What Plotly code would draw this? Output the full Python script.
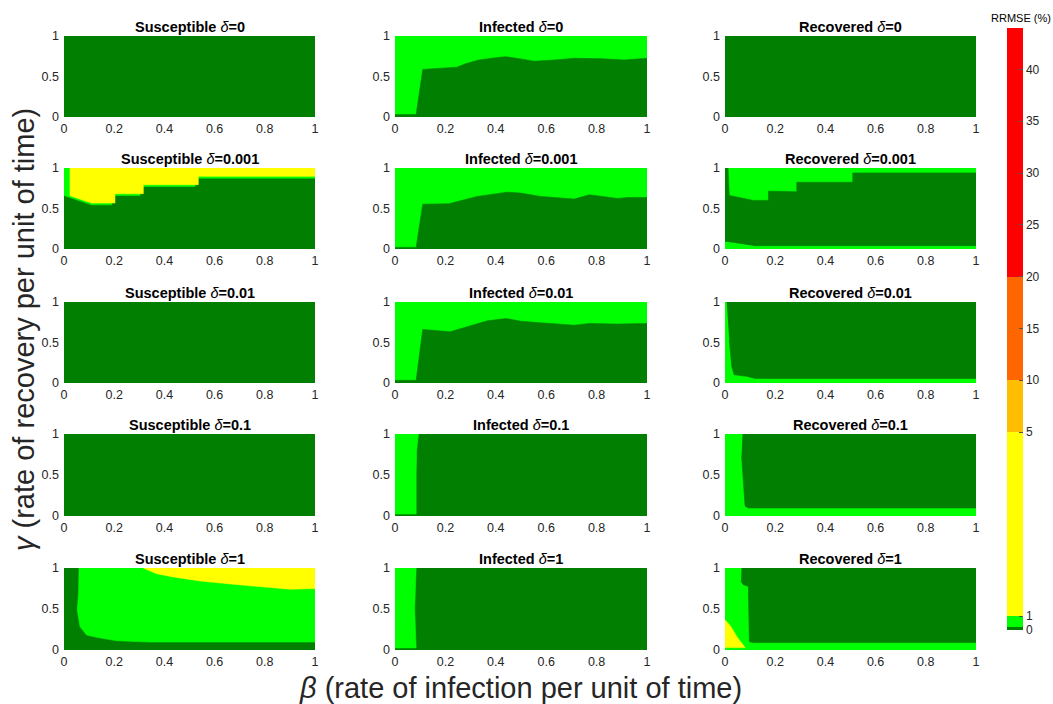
import numpy as np
import plotly.graph_objects as go
from plotly.subplots import make_subplots

# ---------------- axes / labels ----------------
BETA_TICKS = [0, 0.2, 0.4, 0.6, 0.8, 1]
BETA_LABELS = ["0", "0.2", "0.4", "0.6", "0.8", "1"]
GAMMA_TICKS = [0, 0.5, 1]
GAMMA_LABELS = ["0", "0.5", "1"]
AXIS_RANGE = [0, 1]

COMPARTMENTS = ["Susceptible", "Infected", "Recovered"]
DELTAS = ["0", "0.001", "0.01", "0.1", "1"]

# ---------------- RRMSE colour bins ----------------
BIN_EDGES = [0, 0.25, 1, 5, 10, 20, 44]
BIN_COLORS = ["#007F00", "#00FF00", "#FFFF00", "#FFBF00", "#FF6600", "#FF0000"]
CB_TICKS = [0, 1, 5, 10, 15, 20, 25, 30, 35, 40]
# colorbar is stretched below 5 (piecewise scale knots)
CB_KNOT_VALUES = [0, 1, 5, 44]
CB_KNOT_POS = [0, 14, 198, 602]

# representative RRMSE (%) of each region type
LOW = 0.1      # dark green
MID = 0.6      # bright green
HIGH = 3.0     # yellow

# ---------------- region boundaries ----------------
# Infected: upper edge of the low-error (dark) region
INF_D0_X = [0, 0.084, 0.110, 0.18, 0.246, 0.279, 0.332, 0.392, 0.439, 0.5, 0.552, 0.632, 0.711, 0.818, 0.91, 1]
INF_D0_Y = [0.03, 0.03, 0.587, 0.60, 0.615, 0.656, 0.704, 0.729, 0.745, 0.717, 0.688, 0.704, 0.725, 0.72, 0.704, 0.725]
INF_D0001_X = [0, 0.084, 0.110, 0.213, 0.326, 0.379, 0.445, 0.499, 0.578, 0.711, 0.771, 0.884, 0.924, 1]
INF_D0001_Y = [0.02, 0.02, 0.554, 0.558, 0.649, 0.669, 0.702, 0.69, 0.649, 0.616, 0.669, 0.624, 0.636, 0.636]
INF_D001_X = [0, 0.084, 0.110, 0.219, 0.286, 0.366, 0.441, 0.499, 0.578, 0.711, 0.771, 0.884, 1]
INF_D001_Y = [0.033, 0.033, 0.661, 0.633, 0.694, 0.767, 0.796, 0.763, 0.743, 0.714, 0.735, 0.727, 0.735]
# Infected: bright (mid-error) band at small beta
INF_D01_X = [0, 0.084, 0.084, 0.086, 0.093, 0]
INF_D01_Y = [0.024, 0.024, 0.5, 0.8, 1, 1]
INF_D1_X = [0, 0.084, 0.078, 0.084, 0]
INF_D1_Y = [0.025, 0.025, 0.5, 1, 1]

# Susceptible delta=0.001
SUS_D0001_MID_X = [0, 0, 0.11, 0.19, 0.19, 0.303, 0.303, 0.522, 0.522, 1, 1]
SUS_D0001_MID_Y = [1, 0.66, 0.545, 0.545, 0.662, 0.662, 0.772, 0.772, 0.875, 0.875, 1]
SUS_D0001_HIGH_X = [0.024, 0.024, 0.110, 0.203, 0.203, 0.316, 0.316, 0.535, 0.535, 1, 1]
SUS_D0001_HIGH_Y = [1, 0.658, 0.568, 0.568, 0.683, 0.683, 0.794, 0.794, 0.897, 0.897, 1]
# Susceptible delta=1
SUS_D1_MID_X = [0.06, 0.058, 0.053, 0.064, 0.09, 0.13, 0.21, 0.343, 1, 1]
SUS_D1_MID_Y = [1, 0.7, 0.486, 0.283, 0.182, 0.154, 0.113, 0.097, 0.097, 1]
SUS_D1_HIGH_X = [0.316, 0.369, 0.436, 0.542, 0.675, 0.807, 0.9, 1, 1]
SUS_D1_HIGH_Y = [1, 0.931, 0.891, 0.842, 0.802, 0.769, 0.741, 0.749, 1]

# Recovered: low-error (dark) region
REC_D0001_X = [0, 0, 0.012, 0.017, 0.113, 0.173, 0.173, 0.286, 0.286, 0.509, 0.509, 1, 1, 0.113]
REC_D0001_Y = [0.094, 1, 1, 0.661, 0.6, 0.6, 0.714, 0.706, 0.824, 0.824, 0.939, 0.939, 0.041, 0.041]
REC_D001_X = [0.007, 1, 1, 0.12, 0.086, 0.036, 0.027, 0.017]
REC_D001_Y = [1, 1, 0.057, 0.057, 0.082, 0.102, 0.204, 0.53]
REC_D01_X = [0.07, 1, 1, 0.093, 0.08, 0.073, 0.066]
REC_D01_Y = [1, 1, 0.098, 0.098, 0.122, 0.449, 0.735]
REC_D1_X = [0.066, 1, 1, 0.113, 0.097, 0.093, 0.073, 0.064]
REC_D1_Y = [1, 1, 0.09, 0.09, 0.102, 0.776, 0.796, 0.837]
REC_D1_HIGH_X = [0, 0.02, 0.05, 0.08, 0]
REC_D1_HIGH_Y = [0.367, 0.3, 0.15, 0.029, 0.029]

FULL_X = [AXIS_RANGE[0], AXIS_RANGE[1], AXIS_RANGE[1], AXIS_RANGE[0]]
FULL_Y = [AXIS_RANGE[0], AXIS_RANGE[0], AXIS_RANGE[1], AXIS_RANGE[1]]


def under(xs, ys):
    """close a boundary curve down to the bottom of the axis"""
    return xs + [AXIS_RANGE[1], AXIS_RANGE[0]], ys + [AXIS_RANGE[0], AXIS_RANGE[0]]


# (row, col) -> list of (rrmse, xs, ys), drawn in order
PANELS = {
    (1, 1): [(LOW, FULL_X, FULL_Y)],
    (1, 2): [(MID, FULL_X, FULL_Y), (LOW, *under(INF_D0_X, INF_D0_Y))],
    (1, 3): [(LOW, FULL_X, FULL_Y)],
    (2, 1): [(LOW, FULL_X, FULL_Y), (MID, SUS_D0001_MID_X, SUS_D0001_MID_Y),
             (HIGH, SUS_D0001_HIGH_X, SUS_D0001_HIGH_Y)],
    (2, 2): [(MID, FULL_X, FULL_Y), (LOW, *under(INF_D0001_X, INF_D0001_Y))],
    (2, 3): [(MID, FULL_X, FULL_Y), (LOW, REC_D0001_X, REC_D0001_Y)],
    (3, 1): [(LOW, FULL_X, FULL_Y)],
    (3, 2): [(MID, FULL_X, FULL_Y), (LOW, *under(INF_D001_X, INF_D001_Y))],
    (3, 3): [(MID, FULL_X, FULL_Y), (LOW, REC_D001_X, REC_D001_Y)],
    (4, 1): [(LOW, FULL_X, FULL_Y)],
    (4, 2): [(LOW, FULL_X, FULL_Y), (MID, INF_D01_X, INF_D01_Y)],
    (4, 3): [(MID, FULL_X, FULL_Y), (LOW, REC_D01_X, REC_D01_Y)],
    (5, 1): [(LOW, FULL_X, FULL_Y), (MID, SUS_D1_MID_X, SUS_D1_MID_Y),
             (HIGH, SUS_D1_HIGH_X, SUS_D1_HIGH_Y)],
    (5, 2): [(LOW, FULL_X, FULL_Y), (MID, INF_D1_X, INF_D1_Y)],
    (5, 3): [(MID, FULL_X, FULL_Y), (LOW, REC_D1_X, REC_D1_Y),
             (HIGH, REC_D1_HIGH_X, REC_D1_HIGH_Y)],
}


def color_of(v):
    i = int(np.clip(np.digitize(v, BIN_EDGES) - 1, 0, len(BIN_COLORS) - 1))
    return BIN_COLORS[i]


W, H = 1053, 704
COL_X = [(64, 315), (395, 647), (725, 976)]
ROW_Y = [(36, 117), (168, 249), (302, 383), (434, 516), (568, 650)]

FONT = "Liberation Sans, Arial, Helvetica, sans-serif"
TXT = "#262626"

fig = make_subplots(rows=5, cols=3)

for (r, c), regions in PANELS.items():
    for val, xs, ys in regions:
        col = color_of(val)
        fig.add_trace(go.Scatter(x=xs, y=ys, mode="lines", fill="toself",
                                 fillcolor=col, line=dict(color=col, width=0.6),
                                 hoverinfo="skip", showlegend=False), row=r, col=c)

for r in range(1, 6):
    for c in range(1, 4):
        x0, x1 = COL_X[c - 1]
        y0, y1 = ROW_Y[r - 1]
        fig.update_xaxes(domain=[x0 / W, x1 / W], range=AXIS_RANGE, tickvals=BETA_TICKS,
                         ticktext=BETA_LABELS, showgrid=False, zeroline=False, showline=False,
                         ticks="", ticklabelstandoff=2,
                         tickfont=dict(size=12.5, color=TXT, family=FONT),
                         fixedrange=True, row=r, col=c)
        fig.update_yaxes(domain=[1 - y1 / H, 1 - y0 / H], range=AXIS_RANGE, tickvals=GAMMA_TICKS,
                         ticktext=GAMMA_LABELS, showgrid=False, zeroline=False, showline=False,
                         ticks="", ticklabelstandoff=4,
                         tickfont=dict(size=12.5, color=TXT, family=FONT),
                         fixedrange=True, row=r, col=c)
        fig.add_annotation(x=(x0 + x1) / 2 / W, y=1 - (y0 + 1) / H, xref="paper", yref="paper",
                           xanchor="center", yanchor="bottom", showarrow=False,
                           text=f"<b>{COMPARTMENTS[c - 1]}</b> <i>δ</i><b>={DELTAS[r - 1]}</b>",
                           font=dict(size=14.5, color="black", family=FONT))

# colorbar (discrete bins on a stretched scale)
edge_pos = np.interp(BIN_EDGES, CB_KNOT_VALUES, CB_KNOT_POS)
cmax = CB_KNOT_POS[-1]
scale = []
for i, col in enumerate(BIN_COLORS):
    scale.append([edge_pos[i] / cmax, col])
    scale.append([min(edge_pos[i + 1] / cmax, 1.0), col])
tick_pos = np.interp(CB_TICKS, CB_KNOT_VALUES, CB_KNOT_POS)

fig.add_trace(go.Scatter(
    x=[None, None], y=[None, None], mode="markers", showlegend=False, hoverinfo="skip",
    marker=dict(color=[0, cmax], cmin=0, cmax=cmax, colorscale=scale, showscale=True,
                colorbar=dict(x=1007 / W, xanchor="left", xpad=0, ypad=0,
                              y=1 - 28 / H, yanchor="top",
                              len=(630 - 28) / H, lenmode="fraction", thickness=16,
                              thicknessmode="pixels", outlinewidth=0,
                              tickvals=list(tick_pos), ticktext=[str(t) for t in CB_TICKS],
                              ticks="inside", ticklen=4, tickcolor="#555555",
                              tickfont=dict(size=12, color=TXT, family=FONT)))),
    row=1, col=1)

fig.add_annotation(x=1021 / W, y=1 - 18 / H, xref="paper", yref="paper", showarrow=False,
                   xanchor="center", yanchor="middle", text="RRMSE (%)",
                   font=dict(size=11, color="black", family=FONT))

fig.add_annotation(x=24 / W, y=1 - 330 / H, xref="paper", yref="paper", showarrow=False,
                   textangle=-90, xanchor="center", yanchor="middle",
                   text="<i>γ</i> (rate of recovery per unit of time)",
                   font=dict(size=29, color=TXT, family=FONT))
fig.add_annotation(x=520 / W, y=1 - 688 / H, xref="paper", yref="paper", showarrow=False,
                   xanchor="center", yanchor="middle",
                   text="<i>β</i> (rate of infection per unit of time)",
                   font=dict(size=29, color=TXT, family=FONT))

fig.update_layout(width=W, height=H, margin=dict(l=0, r=0, t=0, b=0, autoexpand=False),
                  paper_bgcolor="white", plot_bgcolor="white")

fig.write_html("out.html", config={"displayModeBar": False},
               post_script="document.body.style.margin='0';document.body.style.overflow='hidden';")
